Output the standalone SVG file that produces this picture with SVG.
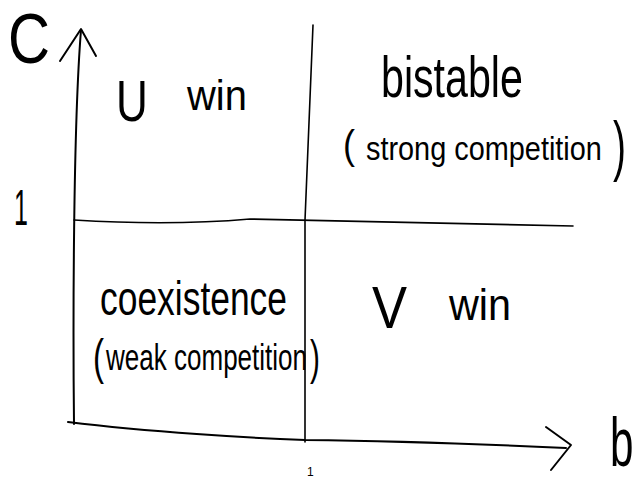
<svg xmlns="http://www.w3.org/2000/svg" width="636" height="479" viewBox="0 0 636 479">
  <style>
    .ln { fill: none; stroke: #000; stroke-width: 2; stroke-linecap: round; stroke-linejoin: round; }
    .thin { stroke-width: 1.6; }
    .t { font-family: "Liberation Sans", "DejaVu Sans", sans-serif; fill: #000; }
  </style>
  <rect width="636" height="479" fill="#fff"/>
  <g id="connectors">
    <path class="ln" d="M 74 424 C 73 330, 73 130, 81 30"/>
    <path class="ln" d="M 60 61 L 81 29 L 96 56"/>
    <path class="ln" d="M 68 422 C 150 432, 250 438, 305 440 C 400 441, 480 444, 566 448"/>
    <path class="ln" d="M 546 427 L 571 445 L 551 470"/>
    <path class="ln thin" d="M 74 220 Q 170 226 250 219 L 573 226"/>
    <path class="ln thin" d="M 313 25 L 305 220 L 305 442"/>
  </g>
  <g id="axis-labels">
    <text class="t" font-size="70" transform="translate(8 63) scale(0.83 1)">C</text>
    <text class="t" font-size="50" transform="translate(14 225) scale(0.5 1)">1</text>
    <text class="t" font-size="68" transform="translate(610 466) scale(0.62 1)">b</text>
    <text class="t" font-size="12" x="307" y="476">1</text>
  </g>
  <g id="u-win">
    <text class="t" font-size="58" transform="translate(116 121) scale(0.76 1)">U</text>
    <text class="t" font-size="42" transform="translate(187 110) scale(0.95 1)">win</text>
  </g>
  <g id="bistable">
    <text class="t" font-size="58" transform="translate(381 97) scale(0.71 1)">bistable</text>
    <text class="t" font-size="40" transform="translate(343 159) scale(0.9 1)">(</text>
    <text class="t" font-size="33" transform="translate(366 160) scale(0.875 1)">strong competition</text>
    <text class="t" font-size="66" transform="translate(613 168) scale(0.59 1)">)</text>
  </g>
  <g id="coexistence">
    <text class="t" font-size="48" transform="translate(100 315) scale(0.738 1)">coexistence</text>
    <text class="t" font-size="50" transform="translate(93 374) scale(0.66 1)">(</text>
    <text class="t" font-size="36" transform="translate(106 370) scale(0.723 1)">weak competition</text>
    <text class="t" font-size="48" transform="translate(310 374) scale(0.62 1)">)</text>
  </g>
  <g id="v-win">
    <text class="t" font-size="60" transform="translate(372 328) scale(0.875 1)">V</text>
    <text class="t" font-size="44" transform="translate(449 320) scale(0.94 1)">win</text>
  </g>
</svg>
